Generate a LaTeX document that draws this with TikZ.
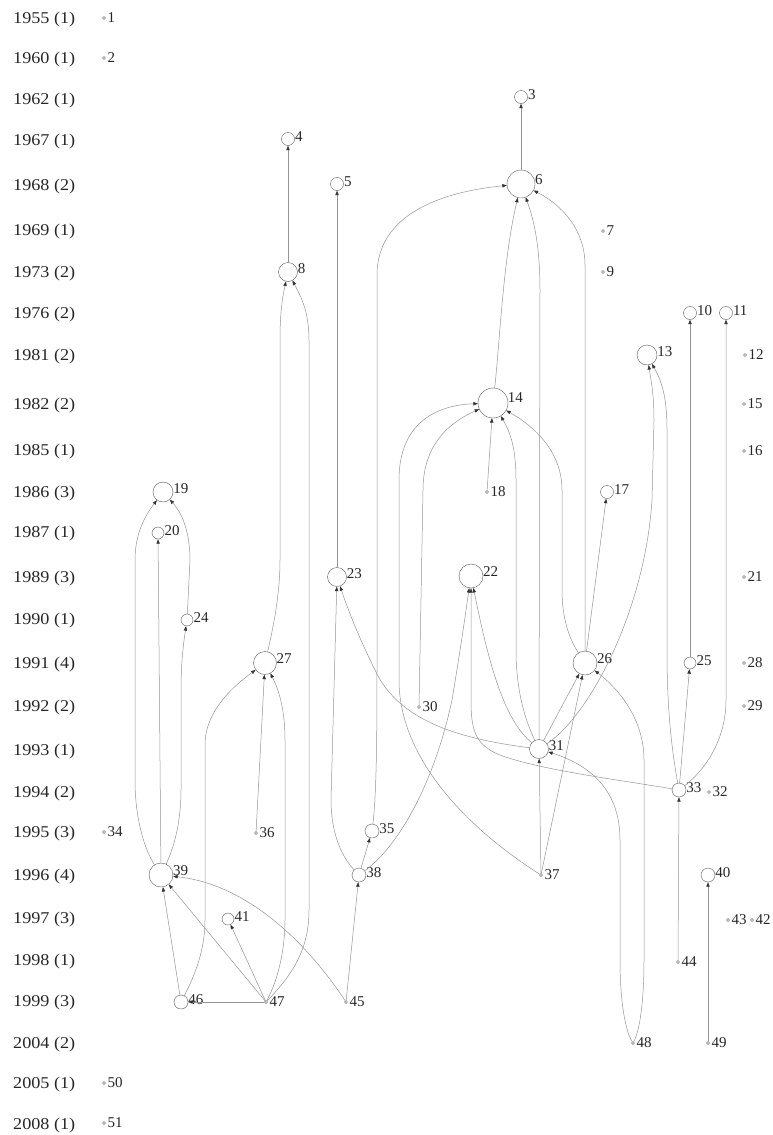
\documentclass[tikz,border=0pt]{standalone}
\usepackage{fontspec}
\setmainfont{Liberation Serif}
\newfontfamily\yrfont{Liberation Serif}[FakeStretch=1.1]
\usetikzlibrary{arrows.meta}

\begin{document}
\begin{tikzpicture}[line cap=round,line join=round,
  >={Triangle[length=4.5pt,width=3.4pt,black!80]},x=1pt,y=-1pt,
  font=\fontsize{15}{17}\selectfont]
\tikzset{
  vtx/.style={circle,draw=black!65,fill=white,inner sep=0pt,minimum size=#1},
  spot/.style={circle,draw=black!50,fill=black!20,inner sep=0pt,minimum size=3.2pt},
  num/.style={anchor=west,inner sep=0.5pt,text=black!85},
  yr/.style={anchor=west,inner sep=0pt,text=black!85,yshift=-1.5pt,
    font=\yrfont\fontsize{16.5}{18}\selectfont},
  link/.style={->,draw=black!42,line width=0.5pt},
}
\useasboundingbox (0,0) rectangle (773,1135);
%
% year rows
\foreach \y/\yr/\c in {18/1955/1,58/1960/1,99/1962/1,140/1967/1,185/1968/2,
  230/1969/1,272/1973/2,313/1976/2,355/1981/2,404/1982/2,450/1985/1,
  492/1986/3,532/1987/1,577/1989/3,619/1990/1,663/1991/4,706/1992/2,
  750/1993/1,792/1994/2,832/1995/3,875/1996/4,918/1997/3,960/1998/1,
  1001/1999/3,1043/2004/2,1083/2005/1,1124/2008/1}
  \node[yr] (yr\yr) at (13,\y) {\yr\ (\c)};
%
% papers
\foreach \n/\x/\y/\d in {3/521/97/13,4/288/139/13,5/337/184/13,6/521/184/28,
  8/288/272/19,10/690/313/13,11/726/313/13,13/647/355/20,14/493/403/30,
  17/607/492/13,19/163/492/20,20/158/533/12,22/471/576/24,23/337/577/19,
  24/187/620/12,25/690/663/12,26/585/663/24,27/265/663/23,31/539/749/19,
  33/679/790/14,35/372/831/14,38/359/875/14,39/161/875/24,40/708/875/14,
  41/228/919/12,46/181/1002/14}
  \node[vtx=\d pt,label={[num]20:\n}] (n\n) at (\x,\y) {};
\foreach \n/\x/\y in {1/104/18,2/104/58,7/603/231,9/603/272,12/745/355,
  15/744/404,16/744/451,18/487/492,21/744/577,28/744/663,29/744/706,
  30/419/707,32/709/792,34/104/832,36/256/833,37/541/875,42/752/920,
  43/728/920,44/678/962,45/346/1002,47/266/1002,48/633/1043,49/708/1043,
  50/104/1083,51/104/1123}
  \node[spot,label={[num,label distance=1pt]0:\n}] (n\n) at (\x,\y) {};
%
% straight citations
\foreach \a/\b in {6/3,8/4,23/5,18/14,26/17,39/20,33/25,25/10,31/26,37/26,
  37/31,44/33,49/40,36/27,38/35,45/38,46/39,47/39,47/41,47/46}
  \draw[link] (n\a) -- (n\b);
%
% curved citations
\draw[link] (n35) .. controls (377,790) and (377,720) .. (377,650) -- (377,275)
  .. controls (377,215) and (440,192) .. (n6);
\draw[link] (n14) .. controls (500,340) and (503,260) .. (n6);
\draw[link] (n31) -- (540,290) .. controls (540,240) and (532,215) .. (n6);
\draw[link] (n26) -- (585,265) .. controls (585,230) and (562,205) .. (n6);
\draw[link] (n27) .. controls (275,620) and (280,590) .. (280,560) -- (280,340)
  .. controls (280,310) and (283,295) .. (n8);
\draw[link] (n47) .. controls (292,975) and (309,950) .. (309,910) -- (309,340)
  .. controls (309,310) and (300,295) .. (n8);
\draw[link] (n31) .. controls (590,715) and (645,610) .. (652,500) -- (654,420)
  .. controls (654,395) and (651,380) .. (n13);
\draw[link] (n33) .. controls (670,740) and (667,700) .. (667,650) -- (667,430)
  .. controls (667,395) and (661,380) .. (n13);
\draw[link] (n33) .. controls (705,770) and (726,740) .. (726,700) -- (n11);
\draw[link] (n37) .. controls (470,830) and (399,760) .. (399,680) -- (399,480)
  .. controls (399,420) and (440,405) .. (n14);
\draw[link] (n30) -- (423,490) .. controls (423,440) and (455,420) .. (n14);
\draw[link] (n31) .. controls (525,720) and (516,690) .. (516,650) -- (516,480)
  .. controls (516,445) and (509,430) .. (n14);
\draw[link] (n26) .. controls (570,640) and (562,620) .. (562,590) -- (562,490)
  .. controls (562,450) and (532,425) .. (n14);
\draw[link] (n39) .. controls (145,850) and (135,820) .. (135,780) -- (135,560)
  .. controls (135,530) and (148,512) .. (n19);
\draw[link] (n39) .. controls (175,845) and (181,820) .. (181,790) -- (181,690)
  .. controls (181,660) and (184,640) .. (n24);
\draw[link] (n24) -- (190,560) .. controls (190,530) and (181,512) .. (n19);
\draw[link] (n38) .. controls (400,845) and (435,780) .. (452,700)
  .. controls (462,640) and (466,610) .. (n22);
\draw[link] (n33) .. controls (620,780) and (540,770) .. (500,755)
  .. controls (475,745) and (471,730) .. (471,700) -- (n22);
\draw[link] (n31) .. controls (505,720) and (490,670) .. (n22);
\draw[link] (n38) .. controls (340,855) and (331,830) .. (331,800) -- (n23);
\draw[link] (n31) .. controls (470,740) and (400,725) .. (375,670)
  .. controls (360,640) and (348,610) .. (n23);
\draw[link] (n48) .. controls (625,1030) and (620,1000) .. (620,960) -- (620,840)
  .. controls (620,790) and (590,765) .. (n31);
\draw[link] (n48) .. controls (640,1030) and (644,1000) .. (644,960) -- (644,760)
  .. controls (644,720) and (620,690) .. (n26);
\draw[link] (n47) .. controls (278,980) and (285,950) .. (285,920) -- (285,740)
  .. controls (285,710) and (279,690) .. (n27);
\draw[link] (n46) .. controls (195,975) and (205,950) .. (205,920) -- (205,745)
  .. controls (205,710) and (235,685) .. (n27);
\draw[link] (n45) .. controls (315,955) and (255,885) .. (n39);
\end{tikzpicture}
\end{document}
